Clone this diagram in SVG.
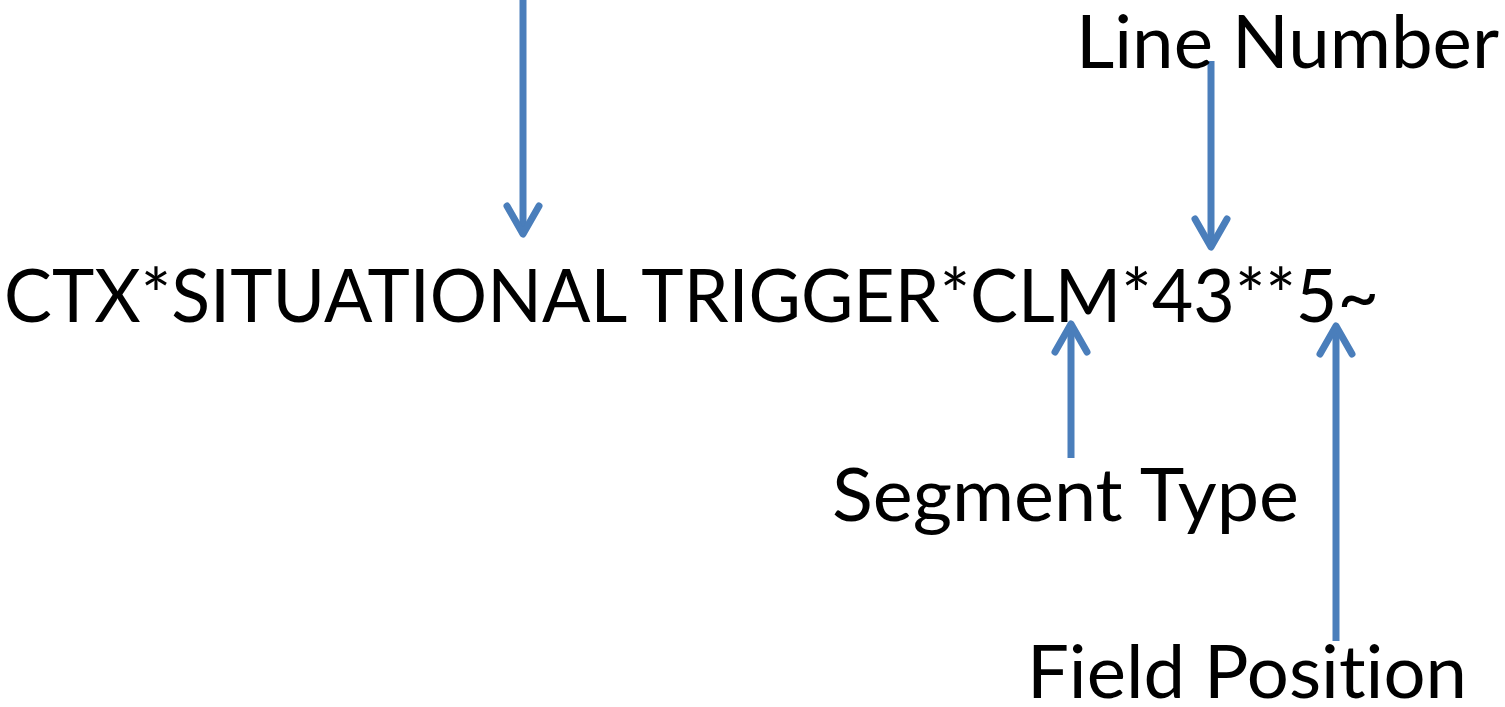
<svg xmlns="http://www.w3.org/2000/svg" width="1505" height="707" viewBox="0 0 1505 707">
  <style>
    .lbl { font-family: Lato, "Open Sans", "Liberation Sans", sans-serif; font-size: 73px; fill: #000000; font-variant-ligatures: none; font-feature-settings: "liga" 0, "dlig" 0; }
    .conn { stroke: #4A7EBB; stroke-width: 7; fill: none; }
  </style>
  <defs>
    <marker id="chev" markerUnits="userSpaceOnUse" markerWidth="44" markerHeight="44" viewBox="-36 -22 44 44" refX="0" refY="0" orient="auto" overflow="visible">
      <path d="M-28,-16 L0,0 L-28,16" fill="none" stroke="#4A7EBB" stroke-width="7" stroke-linecap="round" stroke-linejoin="round"/>
    </marker>
  </defs>
  <rect width="1505" height="707" fill="#ffffff"/>
  <g id="connectors">
    <line class="conn" x1="523" y1="-5" x2="523" y2="234" marker-end="url(#chev)"/>
    <line class="conn" x1="1211" y1="61" x2="1211" y2="247" marker-end="url(#chev)"/>
    <line class="conn" x1="1071" y1="458" x2="1071" y2="324" marker-end="url(#chev)"/>
    <line class="conn" x1="1336" y1="641" x2="1336" y2="326" marker-end="url(#chev)"/>
  </g>
  <g id="segment-text">
    <text class="lbl" x="4" y="322" textLength="1375" lengthAdjust="spacingAndGlyphs">CTX*SITUATIONAL TRIGGER*CLM*43**5~</text>
  </g>
  <g id="line-number">
    <text class="lbl" x="1076" y="68" textLength="423" lengthAdjust="spacingAndGlyphs">Line Number</text>
  </g>
  <g id="segment-type">
    <text class="lbl" x="832" y="521" textLength="467" lengthAdjust="spacingAndGlyphs">Segment Type</text>
  </g>
  <g id="field-position">
    <text class="lbl" x="1027" y="698" textLength="440" lengthAdjust="spacingAndGlyphs">Field Position</text>
  </g>
</svg>
